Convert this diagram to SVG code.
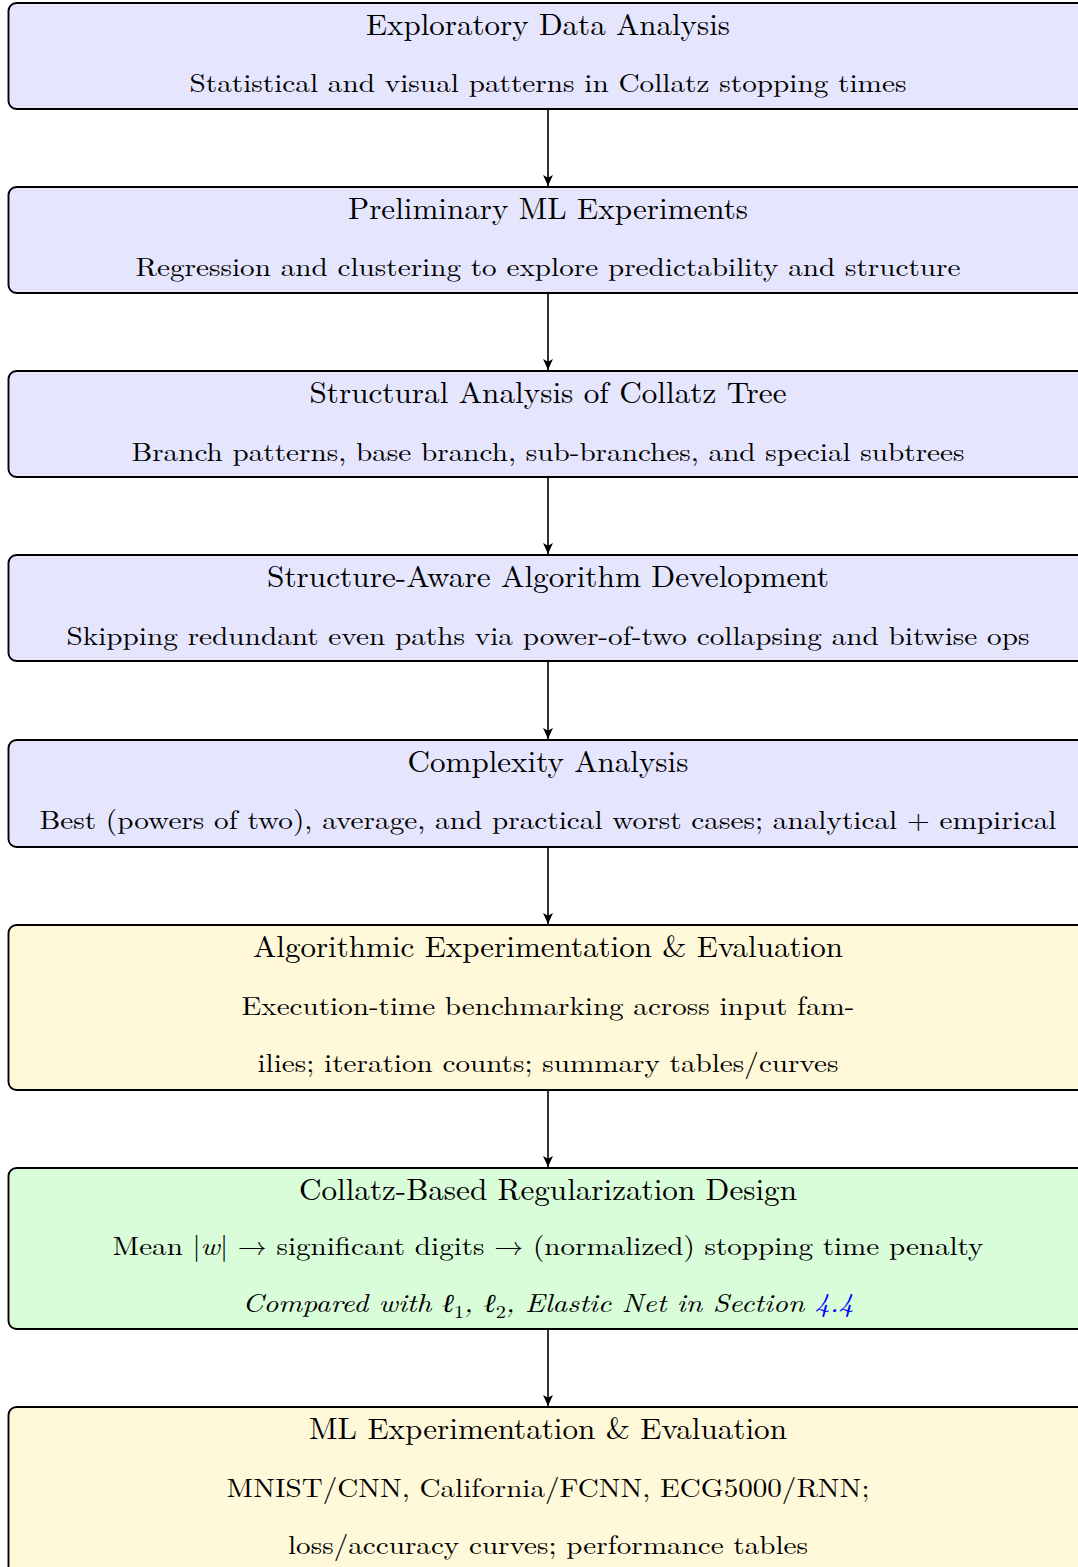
<svg xmlns="http://www.w3.org/2000/svg" width="1078" height="1567" viewBox="0 0 1078 1567">
<style>
.box{stroke:#000;stroke-width:1.9}
.blue{fill:#E5E5FD}
.yellow{fill:#FFF9D9}
.green{fill:#D9FCD9}
text{font-family:"Latin Modern Roman","Liberation Serif","DejaVu Serif",serif;fill:#000;text-anchor:middle}
.t{font-size:30px}
.s{font-size:26px}
.conn{stroke:#000;stroke-width:1.6;fill:none}
</style>
<defs>
<marker id="ah" markerWidth="11" markerHeight="14" refX="10" refY="5" orient="auto" markerUnits="userSpaceOnUse" viewBox="0 0 10 10">
<path d="M0,0.5 L10,5 L0,9.5 L2.5,5 Z" fill="#000"/>
</marker>
</defs>
<rect width="1078" height="1567" fill="#fff"/>
<g id="connectors">
<line class="conn" x1="548" y1="109" x2="548" y2="186" marker-end="url(#ah)"/>
<line class="conn" x1="548" y1="293" x2="548" y2="370" marker-end="url(#ah)"/>
<line class="conn" x1="548" y1="477" x2="548" y2="554" marker-end="url(#ah)"/>
<line class="conn" x1="548" y1="661" x2="548" y2="739" marker-end="url(#ah)"/>
<line class="conn" x1="548" y1="847" x2="548" y2="924" marker-end="url(#ah)"/>
<line class="conn" x1="548" y1="1090" x2="548" y2="1167" marker-end="url(#ah)"/>
<line class="conn" x1="548" y1="1329" x2="548" y2="1406" marker-end="url(#ah)"/>
</g>
<g id="n1">
<rect class="box blue" x="8.5" y="3" width="1079" height="106" rx="8"/>
<text class="t" x="548" y="35" textLength="364" lengthAdjust="spacingAndGlyphs">Exploratory Data Analysis</text>
<text class="s" x="548" y="92" textLength="717" lengthAdjust="spacingAndGlyphs">Statistical and visual patterns in Collatz stopping times</text>
</g>
<g id="n2">
<rect class="box blue" x="8.5" y="187" width="1079" height="106" rx="8"/>
<text class="t" x="548" y="219" textLength="400" lengthAdjust="spacingAndGlyphs">Preliminary ML Experiments</text>
<text class="s" x="548" y="276" textLength="825" lengthAdjust="spacingAndGlyphs">Regression and clustering to explore predictability and structure</text>
</g>
<g id="n3">
<rect class="box blue" x="8.5" y="371" width="1079" height="106" rx="8"/>
<text class="t" x="548" y="403" textLength="477" lengthAdjust="spacingAndGlyphs">Structural Analysis of Collatz Tree</text>
<text class="s" x="548" y="461" textLength="833" lengthAdjust="spacingAndGlyphs">Branch patterns, base branch, sub-branches, and special subtrees</text>
</g>
<g id="n4">
<rect class="box blue" x="8.5" y="555" width="1079" height="106" rx="8"/>
<text class="t" x="548" y="587" textLength="562" lengthAdjust="spacingAndGlyphs">Structure-Aware Algorithm Development</text>
<text class="s" x="548" y="645" textLength="963" lengthAdjust="spacingAndGlyphs">Skipping redundant even paths via power-of-two collapsing and bitwise ops</text>
</g>
<g id="n5">
<rect class="box blue" x="8.5" y="740" width="1079" height="107" rx="8"/>
<text class="t" x="548" y="772" textLength="281" lengthAdjust="spacingAndGlyphs">Complexity Analysis</text>
<text class="s" x="548" y="829" textLength="1017" lengthAdjust="spacingAndGlyphs">Best (powers of two), average, and practical worst cases; analytical + empirical</text>
</g>
<g id="n6">
<rect class="box yellow" x="8.5" y="925" width="1079" height="165" rx="8"/>
<text class="t" x="548" y="957" textLength="590" lengthAdjust="spacingAndGlyphs">Algorithmic Experimentation &amp; Evaluation</text>
<text class="s" x="548" y="1015" textLength="613" lengthAdjust="spacingAndGlyphs">Execution-time benchmarking across input fam-</text>
<text class="s" x="548" y="1072" textLength="581" lengthAdjust="spacingAndGlyphs">ilies; iteration counts; summary tables/curves</text>
</g>
<g id="n7">
<rect class="box green" x="8.5" y="1168" width="1079" height="161" rx="8"/>
<text class="t" x="548" y="1200" textLength="498" lengthAdjust="spacingAndGlyphs">Collatz-Based Regularization Design</text>
<text class="s" x="548" y="1255" textLength="871" lengthAdjust="spacingAndGlyphs">Mean |<tspan font-style="italic">w</tspan>| → significant digits → (normalized) stopping time penalty</text>
<text class="s" x="548" y="1312" font-style="italic" textLength="611" lengthAdjust="spacingAndGlyphs">Compared with ℓ<tspan font-style="normal" font-size="18" dy="6">1</tspan><tspan dy="-6">, ℓ</tspan><tspan font-style="normal" font-size="18" dy="6">2</tspan><tspan dy="-6">, Elastic Net in Section </tspan><tspan fill="#0000FF">4.4</tspan></text>
</g>
<g id="n8">
<rect class="box yellow" x="8.5" y="1407" width="1079" height="200" rx="8"/>
<text class="t" x="548" y="1439" textLength="478" lengthAdjust="spacingAndGlyphs">ML Experimentation &amp; Evaluation</text>
<text class="s" x="548" y="1497" textLength="643" lengthAdjust="spacingAndGlyphs">MNIST/CNN, California/FCNN, ECG5000/RNN;</text>
<text class="s" x="548" y="1554" textLength="520" lengthAdjust="spacingAndGlyphs">loss/accuracy curves; performance tables</text>
</g>
</svg>
